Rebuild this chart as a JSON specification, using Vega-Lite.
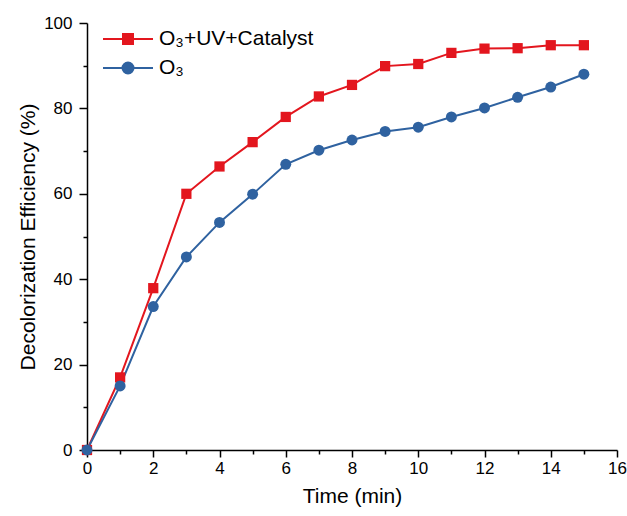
{
  "$schema": "https://vega.github.io/schema/vega-lite/v6.json",
  "autosize": {"type": "none"},
  "width": 530,
  "height": 427,
  "padding": {"left": 87, "top": 23, "right": 10, "bottom": 66},
  "background": "white",
  "config": {
    "view": {"stroke": null},
    "font": "Liberation Sans",
    "axis": {
      "domainColor": "black",
      "domainWidth": 1.5,
      "tickColor": "black",
      "tickWidth": 1.5,
      "labelColor": "black",
      "titleColor": "black",
      "labelFont": "Liberation Sans",
      "titleFont": "Liberation Sans",
      "labelFontSize": 17,
      "titleFontSize": 21,
      "titleFontWeight": "normal",
      "labelFlush": false,
      "grid": false
    },
    "legend": {
      "labelFont": "Liberation Sans",
      "labelFontSize": 21,
      "labelColor": "black"
    }
  },
  "data": {
    "values": [
      {"t": 0, "v": 0, "s": "O₃+UV+Catalyst"},
      {"t": 1, "v": 17.0, "s": "O₃+UV+Catalyst"},
      {"t": 2, "v": 37.9, "s": "O₃+UV+Catalyst"},
      {"t": 3, "v": 60.0, "s": "O₃+UV+Catalyst"},
      {"t": 4, "v": 66.4, "s": "O₃+UV+Catalyst"},
      {"t": 5, "v": 72.1, "s": "O₃+UV+Catalyst"},
      {"t": 6, "v": 78.0, "s": "O₃+UV+Catalyst"},
      {"t": 7, "v": 82.8, "s": "O₃+UV+Catalyst"},
      {"t": 8, "v": 85.5, "s": "O₃+UV+Catalyst"},
      {"t": 9, "v": 89.9, "s": "O₃+UV+Catalyst"},
      {"t": 10, "v": 90.4, "s": "O₃+UV+Catalyst"},
      {"t": 11, "v": 93.0, "s": "O₃+UV+Catalyst"},
      {"t": 12, "v": 94.0, "s": "O₃+UV+Catalyst"},
      {"t": 13, "v": 94.1, "s": "O₃+UV+Catalyst"},
      {"t": 14, "v": 94.8, "s": "O₃+UV+Catalyst"},
      {"t": 15, "v": 94.8, "s": "O₃+UV+Catalyst"},
      {"t": 0, "v": 0, "s": "O₃"},
      {"t": 1, "v": 15.0, "s": "O₃"},
      {"t": 2, "v": 33.6, "s": "O₃"},
      {"t": 3, "v": 45.2, "s": "O₃"},
      {"t": 4, "v": 53.3, "s": "O₃"},
      {"t": 5, "v": 59.9, "s": "O₃"},
      {"t": 6, "v": 66.9, "s": "O₃"},
      {"t": 7, "v": 70.2, "s": "O₃"},
      {"t": 8, "v": 72.6, "s": "O₃"},
      {"t": 9, "v": 74.6, "s": "O₃"},
      {"t": 10, "v": 75.6, "s": "O₃"},
      {"t": 11, "v": 78.0, "s": "O₃"},
      {"t": 12, "v": 80.1, "s": "O₃"},
      {"t": 13, "v": 82.6, "s": "O₃"},
      {"t": 14, "v": 85.0, "s": "O₃"},
      {"t": 15, "v": 88.0, "s": "O₃"}
    ]
  },
  "encoding": {
    "x": {
      "field": "t",
      "type": "quantitative",
      "scale": {"domain": [0, 16], "nice": false},
      "axis": {
        "title": "Time (min)",
        "values": [0,1,2,3,4,5,6,7,8,9,10,11,12,13,14,15,16],
        "labelExpr": "datum.value % 2 === 0 ? datum.label : ''",
        "tickSize": {"condition": {"test": "datum.value % 2 === 0", "value": 7}, "value": 4},
        "labelPadding": 3,
        "titlePadding": 9
      }
    },
    "y": {
      "field": "v",
      "type": "quantitative",
      "scale": {"domain": [0, 100], "nice": false},
      "axis": {
        "title": "Decolorization Efficiency (%)",
        "values": [0,10,20,30,40,50,60,70,80,90,100],
        "labelExpr": "datum.value % 20 === 0 ? datum.label : ''",
        "tickSize": {"condition": {"test": "datum.value % 20 === 0", "value": 8}, "value": 4},
        "labelPadding": 7,
        "titlePadding": 5
      }
    },
    "color": {
      "field": "s",
      "type": "nominal",
      "scale": {"domain": ["O₃+UV+Catalyst", "O₃"], "range": ["#e3161e", "#2f62a0"]},
      "legend": null
    }
  },
  "layer": [
    {
      "mark": {"type": "line", "strokeWidth": 2},
      "encoding": {
        "color": {
          "field": "s",
          "type": "nominal",
          "scale": {"domain": ["O₃+UV+Catalyst", "O₃"], "range": ["#e3161e", "#2f62a0"]},
          "legend": {
            "title": null,
            "orient": "none",
            "legendX": 30,
            "legendY": 5,
            "symbolSize": 400,
            "symbolStrokeWidth": 2,
            "labelOffset": 20,
            "rowPadding": 8,
            "encode": {
              "symbols": {
                "update": {
                  "shape": {"signal": "datum.value === 'O₃' ? 'M-2.5,0L2.5,0M0.55,0A0.55,0.55,0,1,1,-0.55,0A0.55,0.55,0,1,1,0.55,0Z' : 'M-2.5,0L2.5,0M-0.5,-0.5L0.5,-0.5L0.5,0.5L-0.5,0.5Z'"},
                  "fill": {"signal": "datum.value === 'O₃' ? '#2f62a0' : '#e3161e'"},
                  "stroke": {"signal": "datum.value === 'O₃' ? '#2f62a0' : '#e3161e'"},
                  "strokeWidth": {"value": 2}
                }
              }
            }
          }
        }
      }
    },
    {
      "transform": [{"filter": "datum.s !== 'O₃'"}],
      "mark": {"type": "point", "filled": true, "opacity": 1, "shape": "square", "size": 105}
    },
    {
      "transform": [{"filter": "datum.s === 'O₃'"}],
      "mark": {"type": "point", "filled": true, "opacity": 1, "shape": "circle", "size": 120}
    }
  ]
}
